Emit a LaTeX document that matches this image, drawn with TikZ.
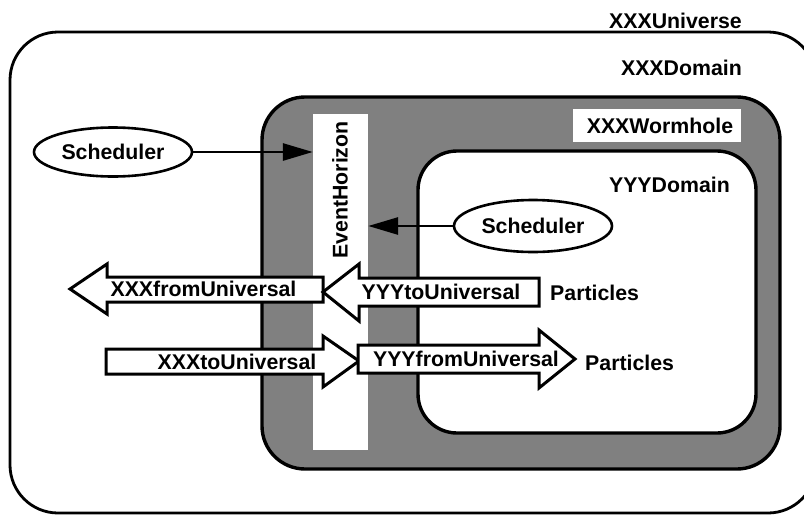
\documentclass[tikz,border=0pt]{standalone}
\usepackage{fontspec}
\setmainfont{Liberation Sans}
\usetikzlibrary{arrows.meta,shapes.geometric}
\begin{document}
\begin{tikzpicture}[x=1pt,y=-1pt,
  lbl/.style={font=\fontsize{21.3}{25}\selectfont\bfseries, inner sep=0pt},
  outerbox/.style={draw=black, line width=2.8pt},
  innerbox/.style={draw=black, line width=3.4pt},
  bigarrow/.style={draw=black, fill=white, line width=3pt, line join=miter},
  sched/.style={ellipse, draw=black, line width=2.6pt, fill=white, minimum width=158pt, minimum height=49pt, inner sep=0pt, font=\fontsize{21.3}{25}\selectfont\bfseries},
  conn/.style={line width=2.8pt, -{Triangle[length=30pt,width=17pt]}}
]
\useasboundingbox (0,0) rectangle (804,515);
% universe / domain
\draw[outerbox, rounded corners=48pt] (10,32) rectangle (816,513);
% wormhole
\draw[innerbox, fill=black!50, rounded corners=43pt] (262,97) rectangle (780,469);
% YYY domain
\draw[innerbox, fill=white, rounded corners=39pt] (418,151) rectangle (756,433);
% event horizon strip
\node[fill=white, minimum width=55pt, minimum height=336pt, inner sep=0pt] (eh) at (340.5,282) {};
\node[lbl, rotate=90] (ehtext) at (340,190) {EventHorizon};
% wormhole label
\node[fill=white, minimum width=168pt, minimum height=33pt, inner sep=0pt] (whbox) at (657,125.5) {};
\node[lbl] (whtext) at (660,126) {XXXWormhole};
% labels
\node[lbl, anchor=east] (univ) at (742,21) {XXXUniverse};
\node[lbl, anchor=east] (xdom) at (742,68) {XXXDomain};
\node[lbl, anchor=east] (ydom) at (730,185) {YYYDomain};
% schedulers
\node[sched] (s1) at (113,152) {Scheduler};
\node[sched, minimum height=52pt] (s2) at (533,226) {Scheduler};
\draw[conn] (s1.east) -- (s1.east -| eh.west);
\draw[conn] (s2.west) -- (s2.west -| eh.east);
% big arrows
\draw[bigarrow] (70,289) -- (107,264) -- (107,277) -- (323,277) -- (323,302) -- (107,302) -- (107,314) -- cycle;
\draw[bigarrow] (323,292) -- (359,264) -- (359,278) -- (539,278) -- (539,306) -- (359,306) -- (359,321) -- cycle;
\draw[bigarrow] (106,349) -- (323,349) -- (323,336) -- (359,361) -- (323,387) -- (323,374) -- (106,374) -- cycle;
\draw[bigarrow] (358,345) -- (539,345) -- (539,330) -- (575,359) -- (539,388) -- (539,373) -- (358,373) -- cycle;
\node[lbl] (xfu) at (203.5,289) {XXXfromUniversal};
\node[lbl] (ytu) at (441,292) {YYYtoUniversal};
\node[lbl] (xtu) at (237,362) {XXXtoUniversal};
\node[lbl] (yfu) at (466,359) {YYYfromUniversal};
\node[lbl, anchor=west] (p1) at (550,293) {Particles};
\node[lbl, anchor=west] (p2) at (585,363) {Particles};
\end{tikzpicture}
\end{document}
